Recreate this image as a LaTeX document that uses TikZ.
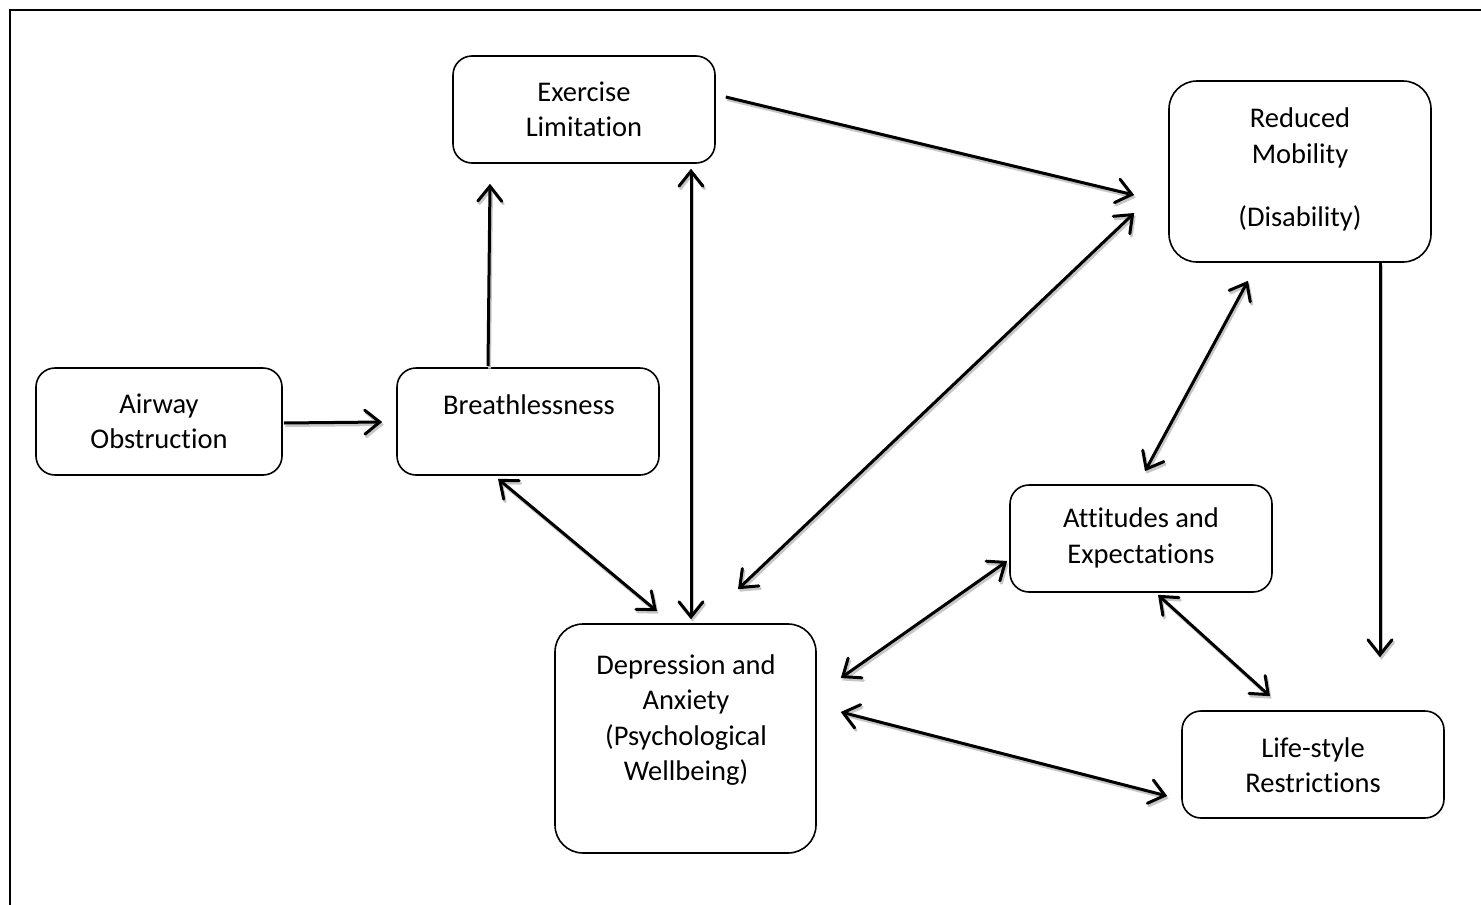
\documentclass[tikz,border=0pt]{standalone}
\usepackage{fontspec}
\setmainfont[Ligatures=NoCommon]{Carlito}
\usetikzlibrary{calc,arrows.meta}
\begin{document}
\begin{tikzpicture}[x=1pt,y=-1pt,
  box/.style={draw,line width=1.6pt,rounded corners=19pt,inner sep=0pt},
  bigbox/.style={box,rounded corners=28pt},
  label/.style={align=center,inner sep=0pt,font=\fontsize{28.5}{35.5}\selectfont},
  link/.style={line width=3pt,
    preaction={draw=black!22,line width=3pt,transform canvas={shift={(1.5pt,-2.5pt)}}}},
  tip/.tip={Straight Barb[length=15pt,width=24pt,line width=3pt,line cap=round]},
  one/.style={link,-tip},
  two/.style={link,tip-tip}]
\useasboundingbox (0,0) rectangle (1481,905);
% open frame
\draw[line width=2.2pt] (1481,10) -- (10,10) -- (10,905);

% boxes
\node[box,minimum width=262pt,minimum height=107pt] (ex) at (584,109.5) {};
\node[bigbox,minimum width=262pt,minimum height=181pt] (rm) at (1300,171.5) {};
\node[box,minimum width=246pt,minimum height=107pt] (ao) at (159,421.5) {};
\node[box,minimum width=262pt,minimum height=107pt] (br) at (528,421.5) {};
\node[box,minimum width=262pt,minimum height=107pt] (at) at (1141,538.5) {};
\node[bigbox,minimum width=261pt,minimum height=229pt] (dp) at (685.5,738.5) {};
\node[box,minimum width=262pt,minimum height=107pt] (ls) at (1313,764.5) {};

% box texts
\node[label] (ex-t) at (584,109.5) {Exercise\\Limitation};
\node[label] (rm-t) at (1300,169.5) {Reduced\\Mobility\\[27.5pt](Disability)};
\node[label] (ao-t) at (159,421.5) {Airway\\Obstruction};
\node[label] (br-t) at (529,405) {Breathlessness};
\node[label] (at-t) at (1141,538) {Attitudes and\\Expectations};
\node[label] (dp-t) at (686,720) {Depression and\\Anxiety\\(Psychological\\Wellbeing)};
\node[label] (ls-t) at (1313,765) {Life-style\\Restrictions};

% connectors
\draw[one] ($(ao.east)+(1,1.5)$) -- ($(br.west)+(-14,0.5)$);
\draw[one] ($(br.north)+(-40,-1)$) -- ($(ex.south)+(-94,20)$);
\draw[two] ($(ex.south)+(107,5)$) -- ($(dp.north)+(5.5,-4)$);
\draw[one] ($(ex.east)+(10,-12.5)$) -- ($(rm.west)+(-34,23.5)$);
\draw[two] ($(rm.west)+(-34,41.5)$) -- ($(dp.north)+(52.5,-34)$);
\draw[two] ($(br.south)+(-30,3)$) -- ($(dp.north)+(-28.5,-12)$);
\draw[two] ($(rm.south)+(-52,18)$) -- ($(at.north)+(4,-13)$);
\draw[one] ($(rm.south)+(80,0)$) -- ($(ls.north)+(67,-53)$);
\draw[two] ($(at.west)+(-2,22.5)$) -- ($(dp.east)+(24,-60.5)$);
\draw[two] ($(at.south)+(17,2)$) -- ($(ls.north)+(-43,-14)$);
\draw[two] ($(dp.east)+(24,-26.5)$) -- ($(ls.west)+(-14,31.5)$);
\end{tikzpicture}
\end{document}
